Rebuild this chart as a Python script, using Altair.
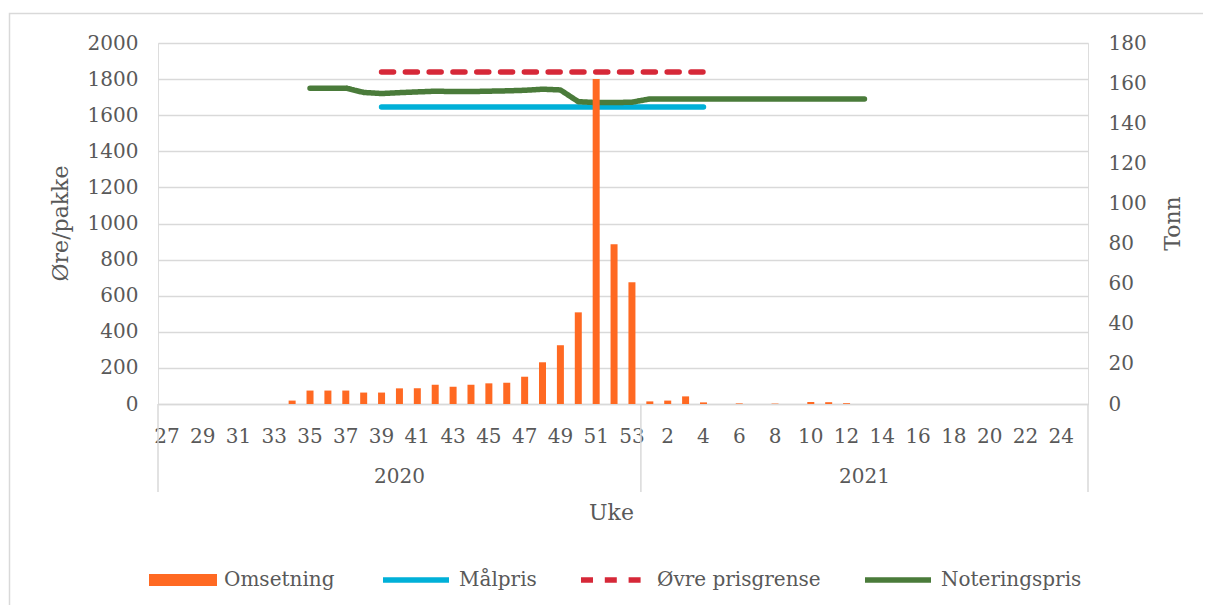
import altair as alt
import pandas as pd

FONT = "DejaVu Serif"
GRAY = "#595959"
GRID = "#D9D9D9"

# Category axis: weeks 27-53 of 2020 followed by weeks 1-25 of 2021
WEEKS = ["27", "28", "29", "30", "31", "32", "33", "34", "35", "36", "37", "38", "39", "40",
         "41", "42", "43", "44", "45", "46", "47", "48", "49", "50", "51", "52", "53",
         "1", "2", "3", "4", "5", "6", "7", "8", "9", "10", "11", "12", "13", "14", "15",
         "16", "17", "18", "19", "20", "21", "22", "23", "24", "25"]
WEEK_LABELS = ["27", "29", "31", "33", "35", "37", "39", "41", "43", "45", "47", "49", "51", "53",
               "2", "4", "6", "8", "10", "12", "14", "16", "18", "20", "22", "24"]
YEARS = ["2020", "2021"]
YEAR_CENTER_WEEK = ["40", "13"]
BAR_SERIES = ["Omsetning"]
BAR_COLOR = ["#FF6922"]
LINE_SERIES = ["Målpris", "Øvre prisgrense", "Noteringspris"]
LINE_COLORS = ["#00B0D8", "#D62838", "#4A7B3A"]

# Omsetning (Tonn, right axis)
BAR_WEEKS = ["34", "35", "36", "37", "38", "39", "40", "41", "42", "43", "44", "45", "46", "47",
             "48", "49", "50", "51", "52", "53", "1", "2", "3", "4", "6", "8", "10", "11", "12"]
BAR_TONN = [1.7, 6.7, 6.7, 6.7, 5.7, 5.7, 7.8, 7.8, 9.6, 8.6, 9.6, 10.3, 10.6, 13.6,
            20.8, 29.3, 45.7, 162.0, 79.6, 60.7, 1.3, 1.7, 3.8, 0.8, 0.3, 0.2, 1.0, 0.9, 0.4]

# Målpris and Øvre prisgrense (øre/pakke, left axis)
MAAL_WEEKS = ["39", "40", "41", "42", "43", "44", "45", "46", "47", "48", "49", "50", "51",
              "52", "53", "1", "2", "3", "4"]
MAALPRIS = [1645, 1645, 1645, 1645, 1645, 1645, 1645, 1645, 1645, 1645, 1645, 1645, 1645,
            1645, 1645, 1645, 1645, 1645, 1645]
OVRE = [1840, 1840, 1840, 1840, 1840, 1840, 1840, 1840, 1840, 1840, 1840, 1840, 1840,
        1840, 1840, 1840, 1840, 1840, 1840]

# Noteringspris (øre/pakke, left axis)
NOT_WEEKS = ["35", "36", "37", "38", "39", "40", "41", "42", "43", "44", "45", "46", "47",
             "48", "49", "50", "51", "52", "53", "1", "2", "3", "4", "5", "6", "7", "8", "9",
             "10", "11", "12", "13"]
NOTERING = [1750, 1750, 1750, 1726, 1720, 1725, 1729, 1733, 1731, 1731, 1733, 1735, 1738,
            1744, 1740, 1675, 1670, 1670, 1672, 1690, 1690, 1690, 1690, 1690, 1690, 1690,
            1690, 1690, 1690, 1690, 1690, 1690]

LEFT_TICKS = [0, 200, 400, 600, 800, 1000, 1200, 1400, 1600, 1800, 2000]
RIGHT_TICKS = [0, 20, 40, 60, 80, 100, 120, 140, 160, 180]

rows = []
for name, wk, vals in [("Målpris", MAAL_WEEKS, MAALPRIS),
                       ("Øvre prisgrense", MAAL_WEEKS, OVRE),
                       ("Noteringspris", NOT_WEEKS, NOTERING)]:
    for w, v in zip(wk, vals):
        rows.append({"serie": name, "uke": w, "verdi": v, "idx": WEEKS.index(w)})
line_df = pd.DataFrame(rows)
bar_df = pd.DataFrame({"uke": BAR_WEEKS, "tonn": BAR_TONN, "serie": "Omsetning"})
year_df = pd.DataFrame({"uke": YEAR_CENTER_WEEK, "aar": YEARS})
sep_df = pd.DataFrame({"uke": ["27", "1"]})
end_df = pd.DataFrame({"uke": ["25"]})
one = pd.DataFrame({"a": [0]})

xscale = alt.Scale(type="band", domain=WEEKS, paddingInner=0, paddingOuter=0)
xaxis = alt.Axis(values=WEEK_LABELS, labelAngle=0, labelFont=FONT, labelFontSize=20,
                 labelColor=GRAY, labelPadding=22, labelOverlap=False, ticks=False,
                 domainColor=GRID, domainWidth=1.5, grid=False, title="Uke",
                 titleFont=FONT, titleFontSize=22, titleFontWeight="normal", titleColor=GRAY,
                 titleX=453, titleY=108, titleBaseline="middle", titleAlign="center")

leg_bar = alt.Legend(title=None, orient="none", legendX=-9, legendY=503,
                     symbolType="M-1,-0.18H1V0.18H-1Z", symbolSize=4624, symbolStrokeWidth=0,
                     symbolOpacity=1, labelFont=FONT, labelFontSize=20, labelColor=GRAY,
                     labelLimit=400, labelOffset=7, padding=0)
leg_lines = alt.Legend(title=None, orient="none", legendX=222, legendY=501,
                       direction="horizontal", columns=3, symbolType="stroke",
                       symbolSize=4356, symbolStrokeWidth=5.5, symbolOpacity=1,
                       labelFont=FONT, labelFontSize=20, labelColor=GRAY, labelLimit=400,
                       columnPadding=33, labelOffset=7, padding=0)

cscale = alt.Scale(domain=LINE_SERIES, range=LINE_COLORS)
dscale = alt.Scale(domain=LINE_SERIES, range=[[1, 0], [12, 11.8], [1, 0]])
fscale = alt.Scale(domain=BAR_SERIES, range=BAR_COLOR)

yleft = alt.Axis(orient="left", values=LEFT_TICKS, format="d", labelFont=FONT, labelFontSize=20,
                 labelColor=GRAY, labelPadding=20, ticks=False, domain=False, grid=True,
                 gridColor=GRID, gridWidth=1.5, title="Øre/pakke", titleFont=FONT,
                 titleFontSize=22, titleFontWeight="normal", titleColor=GRAY, titleAngle=270,
                 titleX=-98, titleY=180, titleBaseline="middle", titleAlign="center")
yright = alt.Axis(orient="right", values=RIGHT_TICKS, format="d", labelFont=FONT, labelFontSize=20,
                  labelColor=GRAY, labelPadding=20, ticks=False, domain=False, grid=False,
                  title="Tonn", titleFont=FONT, titleFontSize=22, titleFontWeight="normal",
                  titleColor=GRAY, titleAngle=270, titleX=84, titleY=180,
                  titleBaseline="middle", titleAlign="center")

lines = alt.Chart(line_df).mark_line(strokeCap="round", strokeJoin="round", strokeWidth=5.5).encode(
    x=alt.X("uke:N", scale=xscale, axis=xaxis, bandPosition=0.5),
    y=alt.Y("verdi:Q", scale=alt.Scale(domain=[0, 2000], nice=False), axis=yleft),
    color=alt.Color("serie:N", scale=cscale, legend=leg_lines),
    strokeDash=alt.StrokeDash("serie:N", scale=dscale, legend=leg_lines),
    order=alt.Order("idx:Q"),
)

bars = alt.Chart(bar_df).mark_bar(size=7).encode(
    x=alt.X("uke:N", scale=xscale, axis=xaxis),
    y=alt.Y("tonn:Q", scale=alt.Scale(domain=[0, 180], nice=False), axis=yright),
    fill=alt.Fill("serie:N", scale=fscale, legend=leg_bar),
)

years = alt.Chart(year_df).mark_text(font=FONT, fontSize=20, color=GRAY, baseline="middle").encode(
    x=alt.X("uke:N", scale=xscale, axis=xaxis, bandPosition=0.5),
    y=alt.value(434),
    text="aar:N",
)

seps = alt.Chart(sep_df).mark_rule(color=GRID, strokeWidth=1.5).encode(
    x=alt.X("uke:N", scale=xscale, axis=xaxis, bandPosition=0),
    y=alt.value(361), y2=alt.value(449),
)
endsep = alt.Chart(end_df).mark_rule(color=GRID, strokeWidth=1.5).encode(
    x=alt.X("uke:N", scale=xscale, axis=xaxis, bandPosition=1),
    y=alt.value(361), y2=alt.value(449),
)

frame = alt.Chart(one).mark_rect(fill=None, fillOpacity=0, stroke=GRID, strokeWidth=1.5).encode(
    x=alt.value(-148.5), x2=alt.value(1060), y=alt.value(-29.5), y2=alt.value(590),
)

chart = alt.layer(lines, bars, years, seps, endsep, frame).resolve_scale(
    y="independent"
).properties(
    width=930, height=361,
    autosize=alt.AutoSizeParams(type="none"),
    padding={"left": 150, "top": 35, "right": 115, "bottom": 201},
).configure_view(strokeWidth=0).configure(background="white")

chart.save("out.html", embed_options={"renderer": "svg", "actions": False})
